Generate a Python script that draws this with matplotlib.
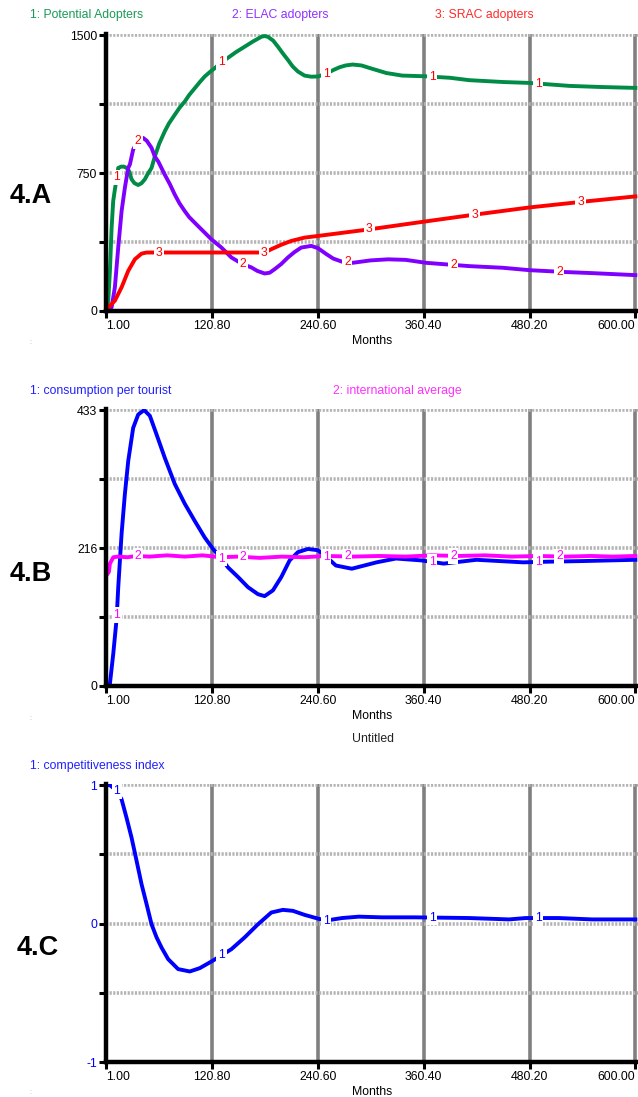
import numpy as np
import matplotlib
matplotlib.use('Agg')
import matplotlib.pyplot as plt

plt.rcParams['font.family'] = ['Liberation Sans', 'DejaVu Sans']

# shared x axis
month_ticks = [1.00, 120.80, 240.60, 360.40, 480.20, 600.00]
month_labels = ['1.00', '120.80', '240.60', '360.40', '480.20', '600.00']

# 4.A adopters
t_potential = [1, 3.3, 5.2, 7.1, 8.9, 10.8, 12.8, 14.6, 18, 21, 24, 27, 29.7, 33, 37.2, 41,
               44.7, 48, 52.3, 56, 61, 67.3, 72, 78.6, 84, 89.9, 95, 101.2, 107, 112.5, 118,
               123.8, 131, 138.9, 148, 157.7, 167, 176.6, 180, 184, 190, 195.4, 201, 206.7, 212,
               218, 225.5, 233, 240.6, 250, 258, 265, 272, 280, 290, 300, 318, 336, 363, 390,
               412, 450, 480, 525, 560, 600]
potential = [0, 57, 220, 454, 598, 661, 720, 778, 785, 785, 778, 760, 716, 695, 685, 695, 716,
             745, 778, 840, 910, 977, 1020, 1067, 1105, 1139, 1175, 1211, 1245, 1275, 1298,
             1320, 1350, 1377, 1408, 1437, 1465, 1491, 1495, 1491, 1470, 1437, 1400, 1365, 1330,
             1302, 1280, 1274, 1275, 1290, 1310, 1325, 1335, 1340, 1335, 1320, 1294, 1280, 1276,
             1268, 1255, 1245, 1240, 1224, 1218, 1213]

t_elac = [1, 4, 7.1, 10.8, 14.6, 18.4, 22.1, 25.9, 27.8, 31.5, 35, 38, 42.8, 47, 52.3, 56, 60,
          67.3, 73, 78.6, 84, 89.9, 95, 101.2, 107, 112.5, 120, 131.4, 142.7, 150, 158, 165.3,
          172, 180.3, 186, 191.6, 199, 206.7, 214, 221.8, 233.1, 240.6, 250, 258, 268, 280, 300,
          320, 340, 363, 390, 412, 450, 480, 520, 551, 600]
elac = [0, 5, 20, 129, 346, 543, 670, 778, 797, 878, 910, 930, 941, 925, 887, 840, 812, 741, 690,
        633, 585, 543, 510, 480, 452, 426, 390, 345, 291, 270, 250, 237, 218, 204, 208, 227, 255,
        291, 320, 345, 354, 342, 310, 285, 268, 262, 275, 281, 278, 262, 252, 244, 235, 222, 212,
        206, 195]

t_srac = [1, 3.3, 10.8, 18.4, 25.9, 33.4, 41, 46.7, 60, 120, 180.3, 187.9, 199, 210.5, 225.5,
          240.6, 299, 355, 412, 480, 544, 600]
srac = [0, 20, 56, 129, 218, 281, 312, 318, 318, 318, 318, 336, 360, 381, 399, 408, 444, 482,
        520, 563, 596, 623]

# 4.B consumption
t_cons = [1, 5.2, 9, 12.8, 14.6, 18.4, 22.1, 25.9, 31.5, 37.2, 43.9, 50.4, 57.9, 67.3, 78.6,
          89.9, 101.2, 112.5, 121.9, 131.4, 138.9, 150.2, 161.5, 172.8, 180.3, 189.7, 199.2,
          208.6, 218, 229.3, 240.6, 250, 261, 279, 307, 329, 358, 383, 420, 473, 500, 540, 600]
cons = [0, 4, 51, 106, 155, 239, 301, 353, 405, 426, 433, 424, 395, 358, 317, 286, 259, 233, 215,
        200, 186, 171, 155, 144, 141, 150, 171, 197, 210, 215, 213, 203, 189, 184, 194, 200, 197,
        192, 198, 194, 195, 196, 198]

t_intl = [1, 4, 5.2, 9, 14.6, 25, 35, 50, 70, 90, 110, 130, 150, 175, 200, 225, 250, 280, 310,
          340, 370, 400, 430, 460, 490, 520, 550, 575, 600]
intl = [173, 179, 192, 202, 203, 202, 204, 203, 205, 203, 205, 202, 203, 201, 203, 202, 204,
        203, 204, 203, 205, 204, 205, 203, 204, 203, 204, 203, 204]

# 4.C competitiveness
t_comp = [1, 5.2, 12.8, 18.4, 24, 29.7, 35.4, 41, 46.7, 52.3, 58, 63.6, 71.1, 82.4, 95.6, 106.9,
          120.1, 131.4, 142.7, 157.7, 172.8, 187.9, 201, 212.3, 225.5, 240.6, 250, 268, 287, 313,
          350, 412, 457, 476, 513, 551, 600]
comp = [1.0, 1.0, 0.96, 0.897, 0.764, 0.62, 0.452, 0.284, 0.14, -0.005, -0.10, -0.173, -0.257,
        -0.329, -0.346, -0.322, -0.274, -0.23, -0.185, -0.10, -0.005, 0.08, 0.099, 0.092, 0.063,
        0.036, 0.022, 0.04, 0.05, 0.045, 0.045, 0.04, 0.03, 0.04, 0.04, 0.03, 0.03]

GREEN = '#008c46'
PURPLE = '#8000ff'
RED = '#ff0000'
BLUE = '#0000ff'
MAGENTA = '#ff00ff'

FS = 8.8
LW = 2.8

fig = plt.figure(figsize=(6.38, 10.97), dpi=100)


def make_axes(rect, yticks, ylabels, tick_color='black'):
    ax = fig.add_axes(rect)
    ax.set_xlim(1, 603)
    ax.set_ylim(yticks[0], yticks[-1] + (yticks[-1] - yticks[0]) * 0.004)
    for s in ['top', 'right']:
        ax.spines[s].set_visible(False)
    for s in ['left', 'bottom']:
        ax.spines[s].set_linewidth(3.2)
        ax.spines[s].set_zorder(5)
    ax.set_xticks(month_ticks)
    ax.set_xticklabels(month_labels, fontsize=FS)
    xl = ax.get_xticklabels()
    xl[0].set_ha('left')
    xl[-1].set_ha('right')
    ax.set_yticks(yticks)
    ax.set_yticklabels(ylabels, fontsize=FS, color=tick_color)
    ax.tick_params(axis='both', length=5, width=2.2, pad=1.5)
    for x in month_ticks[1:]:
        ax.axvline(x, color='#808080', lw=2.6, zorder=1)
    for y in yticks[1:]:
        ax.axhline(y, color='#b4b4b4', lw=2.6, ls=(0, (0.6, 0.4)), zorder=1)
    ax.set_xlabel('Months', fontsize=FS, labelpad=2)
    return ax


def line_labels(ax, t, v, text, where, color):
    for w in where:
        ax.text(w, np.interp(w, t, v), text, fontsize=FS, color=color, ha='center',
                va='center', zorder=6,
                bbox=dict(facecolor='white', edgecolor='none', pad=1.2))


lab1 = [13, 131.5, 250, 370, 490]
lab2 = [37, 155.5, 274, 394, 514]
lab3 = [60.5, 180, 299, 418, 538]

# panel 4.A
axA = make_axes([0.1665, 0.7165, 0.8335, 0.2525], [0, 375, 750, 1125, 1500],
                ['0', '', '750', '', '1500'])
axA.plot(t_potential, potential, color=GREEN, lw=LW, zorder=3)
axA.plot(t_elac, elac, color=PURPLE, lw=LW, zorder=3)
axA.plot(t_srac, srac, color=RED, lw=LW, zorder=3)
line_labels(axA, t_potential, potential, '1', lab1, RED)
line_labels(axA, t_elac, elac, '2', lab2, RED)
line_labels(axA, t_srac, srac, '3', lab3, RED)

# panel 4.B
axB = make_axes([0.1665, 0.3747, 0.8335, 0.2525], [0, 108.25, 216.5, 324.75, 433],
                ['0', '', '216', '', '433'])
axB.plot(t_cons, cons, color=BLUE, lw=LW, zorder=3)
axB.plot(t_intl, intl, color=MAGENTA, lw=LW, zorder=4)
line_labels(axB, t_cons, cons, '1', lab1, MAGENTA)
line_labels(axB, t_intl, intl, '2', lab2, MAGENTA)

# panel 4.C
axC = make_axes([0.1665, 0.0319, 0.8335, 0.2534], [-1, -0.5, 0, 0.5, 1],
                ['-1', '', '0', '', '1'], tick_color=BLUE)
axC.plot(t_comp, comp, color=BLUE, lw=LW, zorder=3)
line_labels(axC, t_comp, comp, '1', lab1, BLUE)

# series titles and panel tags (figure pixel coords)
def ftext(x, y, s, **kw):
    fig.text(x / 638, 1 - y / 1097, s, va='center', **kw)

ftext(30, 15, '1: Potential Adopters', color='#1a9a55', fontsize=FS)
ftext(232, 15, '2: ELAC adopters', color='#9030ff', fontsize=FS)
ftext(435, 15, '3: SRAC adopters', color='#ff2a2a', fontsize=FS)
ftext(30, 391, '1: consumption per tourist', color='#2020ff', fontsize=FS)
ftext(333, 391, '2: international average', color='#ff30ff', fontsize=FS)
ftext(30, 766, '1: competitiveness index', color='#2020ff', fontsize=FS)
ftext(373, 739, 'Untitled', color='#222222', fontsize=FS, ha='center')

ftext(10, 196, '4.A', fontsize=19.5, fontweight='bold')
ftext(10, 574, '4.B', fontsize=19.5, fontweight='bold')
ftext(17, 948, '4.C', fontsize=19.5, fontweight='bold')

for yy in [343, 718, 1093]:
    ftext(29, yy, ':', color='#aaaaaa', fontsize=5)

fig.savefig('out.png', dpi=100)
